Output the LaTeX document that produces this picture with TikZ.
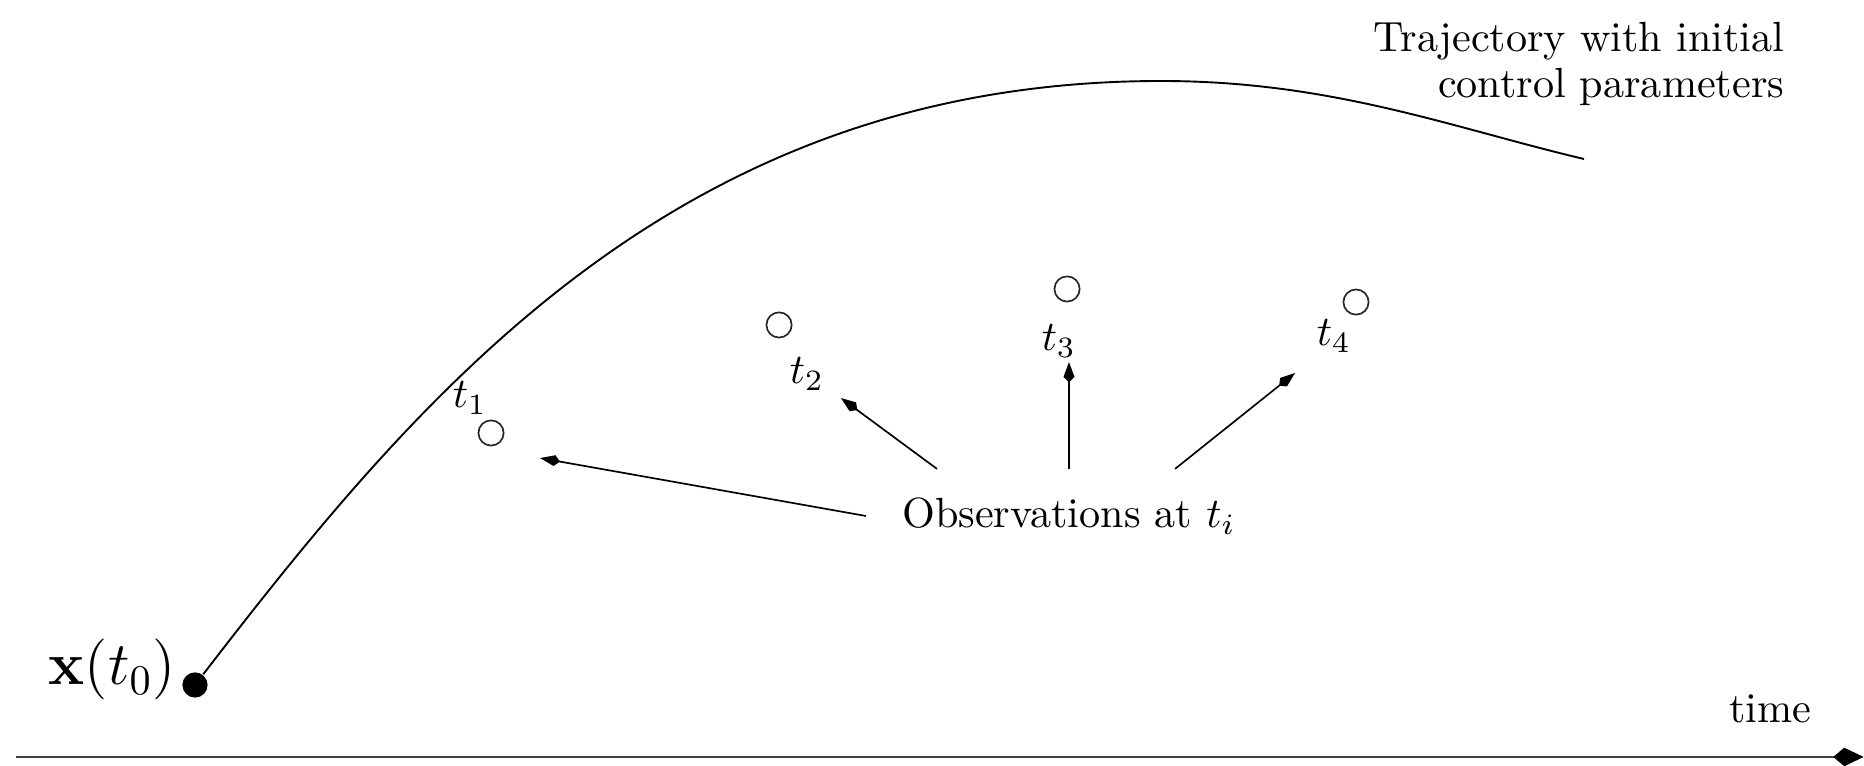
\documentclass[tikz,border=0pt]{standalone}
\usepackage{amsmath,amssymb,bm}
\usepackage{tikz}
\usetikzlibrary{arrows.meta,positioning,calc}

\begin{document}
\begin{tikzpicture}[>={Kite[length=4.8pt,width=2.6pt,inset=1.3pt]},font=\normalsize]
\tikzset{obs/.style={circle,draw=black!85,line width=0.4pt,minimum size=0.21cm,inner sep=0pt},dot/.style={circle,fill=black,minimum size=0.21cm,inner sep=0pt},arr/.style={->,line width=0.4pt}}
\useasboundingbox (0,0) rectangle (15.533,6.375);
% time axis
\coordinate (ta) at (0.133,0.067);
\coordinate (tb) at (15.53,0.067);
\draw[-{Kite[length=7.2pt,width=4.4pt,inset=2.6pt,color=black]},line width=0.6pt,draw=black!75] (ta) -- (tb);
\node[anchor=base] (tm) at (14.75,0.358) {time};
% initial state and trajectory
\node[dot] (x0) at (1.625,0.667) {};
\node[font=\Large,inner sep=0pt,left=0.4mm of x0,anchor=base east] (x0l) {$\mathbf{x}(t_0)$};
\coordinate (pk) at (9.675,5.7);
\coordinate (te) at (13.2,5.05);
\draw[line width=0.45pt] (x0) .. controls (3.53,3.14) and (5.675,5.7) .. (pk) .. controls (11.1,5.7) and (12.1,5.31) .. (te);
\node[align=right,anchor=north east,inner sep=0pt] (ttl) at (14.875,6.2) {Trajectory with initial\\[-1pt]control parameters};
% observations
\node[obs] (o1) at (4.092,2.767) {};
\node[obs] (o2) at (6.492,3.667) {};
\node[obs] (o3) at (8.892,3.967) {};
\node[obs] (o4) at (11.3,3.858) {};
\node (t1) at (3.917,3.058) {$t_1$};
\node (t2) at (6.725,3.258) {$t_2$};
\node (t3) at (8.825,3.533) {$t_3$};
\node (t4) at (11.117,3.575) {$t_4$};
\node[inner xsep=8.4pt,inner ysep=6.7pt] (obsl) at (8.908,2.075) {Observations at $t_i$};
\coordinate (e1) at (4.5,2.558);
\coordinate (e2) at (7.008,3.058);
\coordinate (e3) at (8.908,3.358);
\coordinate (e4) at (10.792,3.267);
\draw[arr] (obsl.west) -- (e1);
\draw[arr] ([xshift=-1.1cm]obsl.north) -- (e2);
\draw[arr] (obsl.north) -- (e3);
\draw[arr] ([xshift=0.884cm]obsl.north) -- (e4);
\end{tikzpicture}
\end{document}
